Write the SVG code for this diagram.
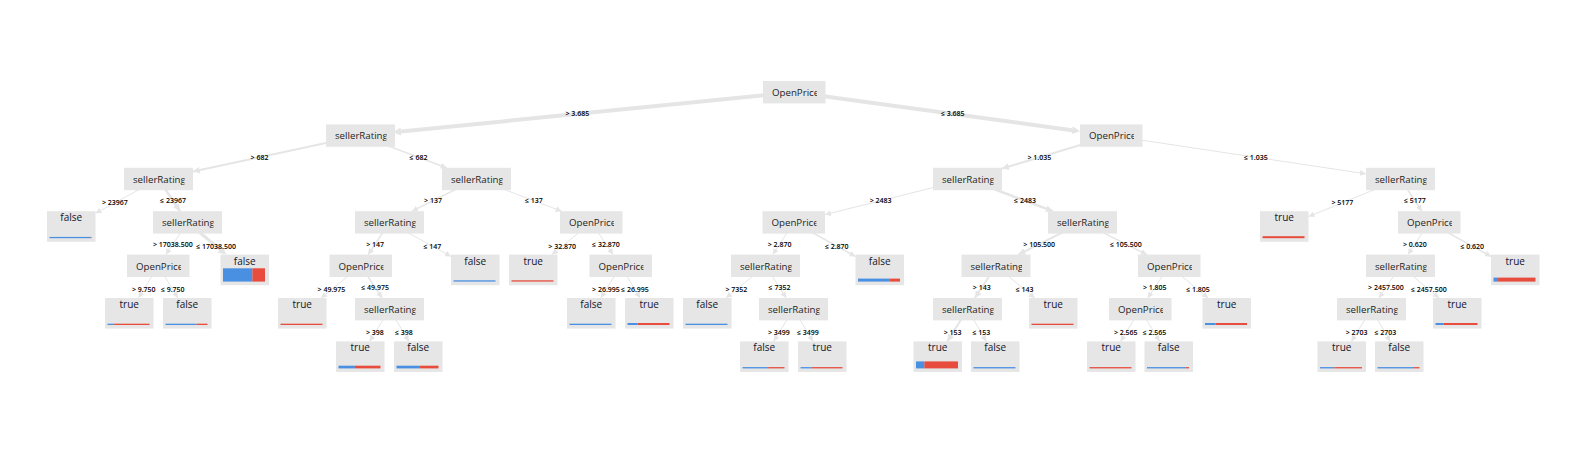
<svg xmlns="http://www.w3.org/2000/svg" width="1582" height="452" viewBox="0 0 1582 452">
<style>
.nr{fill:#e6e6e6}
.t{font-family:"Open Sans","DejaVu Sans",sans-serif;font-size:9.7px;fill:#1e1e1e}
.lt{font-family:"Open Sans","DejaVu Sans",sans-serif;font-size:10px;fill:#14142a;text-anchor:middle}
.el{font-family:"Open Sans","DejaVu Sans",sans-serif;font-size:7px;font-weight:600;fill:#000;text-anchor:middle}
.e{fill:none;stroke:#e5e5e5;stroke-width:1}
.bl{fill:#4a90e2}
.rd{fill:#e74c3c}
</style>
<defs>
<marker id="aS" markerUnits="userSpaceOnUse" markerWidth="6" markerHeight="6" refX="6" refY="3" orient="auto"><path d="M0,0L6,3L0,6z" fill="#e5e5e5"/></marker>
<marker id="aM" markerUnits="userSpaceOnUse" markerWidth="7" markerHeight="7" refX="7" refY="3.5" orient="auto"><path d="M0,0L7,3.5L0,7z" fill="#e5e5e5"/></marker>
<marker id="aL" markerUnits="userSpaceOnUse" markerWidth="8" markerHeight="8" refX="0" refY="4" orient="auto"><path d="M0,0L8,4L0,8z" fill="#e5e5e5"/></marker>
<clipPath id="cSR"><rect x="0" y="0" width="60.5" height="22.4"/></clipPath>
<clipPath id="cOP"><rect x="0" y="0" width="54" height="22.4"/></clipPath>
</defs>
<rect width="1582" height="452" fill="#fff"/>
<g id="connectors">
<path class="e" style="stroke-width:4" d="M794.25,92.2L400.97,131.55" marker-end="url(#aL)"/>
<path class="e" style="stroke-width:4" d="M794.25,92.2L1072.07,130.24" marker-end="url(#aL)"/>
<path class="e" style="stroke-width:2" d="M360.5,135.6L193,171.59" marker-end="url(#aM)"/>
<path class="e" style="stroke-width:1.5" d="M360.5,135.6L446.56,167.8" marker-end="url(#aS)"/>
<path class="e" style="stroke-width:2" d="M1111.25,135.6L1002,168.58" marker-end="url(#aM)"/>
<path class="e" d="M1111.25,135.6L1366,173.82" marker-end="url(#aS)"/>
<path class="e" d="M158.5,179L95.5,213.3" marker-end="url(#aS)"/>
<path class="e" style="stroke-width:2.5" d="M158.5,179L180.02,211.2" marker-end="url(#aM)"/>
<path class="e" style="stroke-width:1.5" d="M476.5,179L411.95,211.2" marker-end="url(#aS)"/>
<path class="e" d="M476.5,179L561.63,211.2" marker-end="url(#aS)"/>
<path class="e" d="M967.5,179L825,214.59" marker-end="url(#aS)"/>
<path class="e" style="stroke-width:2.5" d="M967.5,179L1052.82,211.2" marker-end="url(#aM)"/>
<path class="e" d="M1400.5,179L1308.5,216.59" marker-end="url(#aS)"/>
<path class="e" style="stroke-width:1.5" d="M1400.5,179L1421.83,211.2" marker-end="url(#aS)"/>
<path class="e" d="M187.5,222.4L165.8,254.6" marker-end="url(#aS)"/>
<path class="e" style="stroke-width:3" d="M187.5,222.4L220.15,249.49" marker-end="url(#aL)"/>
<path class="e" style="stroke-width:1.5" d="M389.5,222.4L368.17,254.6" marker-end="url(#aS)"/>
<path class="e" d="M389.5,222.4L451,256.47" marker-end="url(#aS)"/>
<path class="e" d="M591.25,222.4L551.93,254.6" marker-end="url(#aS)"/>
<path class="e" d="M591.25,222.4L613.14,254.6" marker-end="url(#aS)"/>
<path class="e" d="M793.75,222.4L772.79,254.6" marker-end="url(#aS)"/>
<path class="e" style="stroke-width:1.5" d="M793.75,222.4L855.5,256.51" marker-end="url(#aS)"/>
<path class="e" style="stroke-width:2" d="M1082.5,222.4L1018.33,254.6" marker-end="url(#aM)"/>
<path class="e" style="stroke-width:1.5" d="M1082.5,222.4L1146.86,254.6" marker-end="url(#aS)"/>
<path class="e" d="M1429.25,222.4L1407.92,254.6" marker-end="url(#aS)"/>
<path class="e" style="stroke-width:1.5" d="M1429.25,222.4L1491,256.51" marker-end="url(#aS)"/>
<path class="e" d="M158.25,265.8L138.59,298" marker-end="url(#aS)"/>
<path class="e" d="M158.25,265.8L177.91,298" marker-end="url(#aS)"/>
<path class="e" d="M360.75,265.8L321.09,298" marker-end="url(#aS)"/>
<path class="e" style="stroke-width:1.5" d="M360.75,265.8L382.08,298" marker-end="url(#aS)"/>
<path class="e" d="M620.75,265.8L600.75,298" marker-end="url(#aS)"/>
<path class="e" d="M620.75,265.8L640.07,298" marker-end="url(#aS)"/>
<path class="e" d="M765.5,265.8L726.01,298" marker-end="url(#aS)"/>
<path class="e" d="M765.5,265.8L786.27,298" marker-end="url(#aS)"/>
<path class="e" style="stroke-width:2" d="M996,265.8L974.86,298" marker-end="url(#aM)"/>
<path class="e" d="M996,265.8L1034.81,298" marker-end="url(#aS)"/>
<path class="e" d="M1169.25,265.8L1147.73,298" marker-end="url(#aS)"/>
<path class="e" d="M1169.25,265.8L1208.23,298" marker-end="url(#aS)"/>
<path class="e" d="M1400.5,265.8L1378.98,298" marker-end="url(#aS)"/>
<path class="e" d="M1400.5,265.8L1438.97,298" marker-end="url(#aS)"/>
<path class="e" d="M389.5,309.2L369.67,341.4" marker-end="url(#aS)"/>
<path class="e" d="M389.5,309.2L408.99,341.4" marker-end="url(#aS)"/>
<path class="e" d="M793.5,309.2L773.67,341.4" marker-end="url(#aS)"/>
<path class="e" d="M793.5,309.2L812.99,341.4" marker-end="url(#aS)"/>
<path class="e" style="stroke-width:2" d="M967.5,309.2L947.33,341.4" marker-end="url(#aM)"/>
<path class="e" d="M967.5,309.2L986.31,341.4" marker-end="url(#aS)"/>
<path class="e" d="M1140.25,309.2L1120.59,341.4" marker-end="url(#aS)"/>
<path class="e" d="M1140.25,309.2L1159.57,341.4" marker-end="url(#aS)"/>
<path class="e" d="M1371.5,309.2L1351.33,341.4" marker-end="url(#aS)"/>
<path class="e" d="M1371.5,309.2L1390.31,341.4" marker-end="url(#aS)"/>
<text class="el" x="577.4" y="116.4">&gt; 3.685</text>
<text class="el" x="952.75" y="116.4">≤ 3.685</text>
<text class="el" x="259.5" y="159.8">&gt; 682</text>
<text class="el" x="418.5" y="159.8">≤ 682</text>
<text class="el" x="1039.4" y="159.8">&gt; 1.035</text>
<text class="el" x="1255.9" y="159.8">≤ 1.035</text>
<text class="el" x="114.9" y="205.25">&gt; 23967</text>
<text class="el" x="173" y="203.2">≤ 23967</text>
<text class="el" x="433" y="203.2">&gt; 137</text>
<text class="el" x="533.9" y="203.2">≤ 137</text>
<text class="el" x="880.6" y="203.2">&gt; 2483</text>
<text class="el" x="1025" y="203.2">≤ 2483</text>
<text class="el" x="1342.4" y="205.25">&gt; 5177</text>
<text class="el" x="1414.9" y="203.2">≤ 5177</text>
<text class="el" x="172.9" y="246.6">&gt; 17038.500</text>
<text class="el" x="216.1" y="248.65">≤ 17038.500</text>
<text class="el" x="375.1" y="246.6">&gt; 147</text>
<text class="el" x="432.4" y="248.65">≤ 147</text>
<text class="el" x="562.25" y="248.65">&gt; 32.870</text>
<text class="el" x="606" y="246.6">≤ 32.870</text>
<text class="el" x="779.6" y="246.6">&gt; 2.870</text>
<text class="el" x="836.75" y="248.65">≤ 2.870</text>
<text class="el" x="1039.25" y="246.6">&gt; 105.500</text>
<text class="el" x="1125.9" y="246.6">≤ 105.500</text>
<text class="el" x="1414.9" y="246.6">&gt; 0.620</text>
<text class="el" x="1472.25" y="248.65">≤ 0.620</text>
<text class="el" x="143.75" y="292.05">&gt; 9.750</text>
<text class="el" x="172.75" y="292.05">≤ 9.750</text>
<text class="el" x="331.5" y="292.05">&gt; 49.975</text>
<text class="el" x="375.1" y="290">≤ 49.975</text>
<text class="el" x="606" y="292.05">&gt; 26.995</text>
<text class="el" x="635" y="292.05">≤ 26.995</text>
<text class="el" x="736.4" y="292.05">&gt; 7352</text>
<text class="el" x="779.5" y="290">≤ 7352</text>
<text class="el" x="981.75" y="290">&gt; 143</text>
<text class="el" x="1024.6" y="292.05">≤ 143</text>
<text class="el" x="1154.75" y="290">&gt; 1.805</text>
<text class="el" x="1198" y="292.05">≤ 1.805</text>
<text class="el" x="1386" y="290">&gt; 2457.500</text>
<text class="el" x="1428.9" y="292.05">≤ 2457.500</text>
<text class="el" x="374.9" y="335.45">&gt; 398</text>
<text class="el" x="403.9" y="335.45">≤ 398</text>
<text class="el" x="778.9" y="335.45">&gt; 3499</text>
<text class="el" x="807.9" y="335.45">≤ 3499</text>
<text class="el" x="952.6" y="335.45">&gt; 153</text>
<text class="el" x="981.4" y="335.45">≤ 153</text>
<text class="el" x="1125.75" y="335.45">&gt; 2.565</text>
<text class="el" x="1154.5" y="335.45">≤ 2.565</text>
<text class="el" x="1356.6" y="335.45">&gt; 2703</text>
<text class="el" x="1385.4" y="335.45">≤ 2703</text>
</g>
<g id="n-root" transform="translate(763,81)"><rect class="nr" width="62.5" height="22.4"/><text class="t" x="9" y="15" clip-path="url(#cOP)">OpenPrice</text></g>
<g id="n-a" transform="translate(326,124.4)"><rect class="nr" width="69" height="22.4"/><text class="t" x="9" y="15" clip-path="url(#cSR)">sellerRating</text></g>
<g id="n-b" transform="translate(1080,124.4)"><rect class="nr" width="62.5" height="22.4"/><text class="t" x="9" y="15" clip-path="url(#cOP)">OpenPrice</text></g>
<g id="n-aa" transform="translate(124,167.8)"><rect class="nr" width="69" height="22.4"/><text class="t" x="9" y="15" clip-path="url(#cSR)">sellerRating</text></g>
<g id="n-ab" transform="translate(442,167.8)"><rect class="nr" width="69" height="22.4"/><text class="t" x="9" y="15" clip-path="url(#cSR)">sellerRating</text></g>
<g id="n-ba" transform="translate(933,167.8)"><rect class="nr" width="69" height="22.4"/><text class="t" x="9" y="15" clip-path="url(#cSR)">sellerRating</text></g>
<g id="n-bb" transform="translate(1366,167.8)"><rect class="nr" width="69" height="22.4"/><text class="t" x="9" y="15" clip-path="url(#cSR)">sellerRating</text></g>
<g id="n-aa2" transform="translate(153,211.2)"><rect class="nr" width="69" height="22.4"/><text class="t" x="9" y="15" clip-path="url(#cSR)">sellerRating</text></g>
<g id="n-ab1" transform="translate(355,211.2)"><rect class="nr" width="69" height="22.4"/><text class="t" x="9" y="15" clip-path="url(#cSR)">sellerRating</text></g>
<g id="n-ab2" transform="translate(560,211.2)"><rect class="nr" width="62.5" height="22.4"/><text class="t" x="9" y="15" clip-path="url(#cOP)">OpenPrice</text></g>
<g id="n-ba1" transform="translate(762.5,211.2)"><rect class="nr" width="62.5" height="22.4"/><text class="t" x="9" y="15" clip-path="url(#cOP)">OpenPrice</text></g>
<g id="n-ba2" transform="translate(1048,211.2)"><rect class="nr" width="69" height="22.4"/><text class="t" x="9" y="15" clip-path="url(#cSR)">sellerRating</text></g>
<g id="n-bb2" transform="translate(1398,211.2)"><rect class="nr" width="62.5" height="22.4"/><text class="t" x="9" y="15" clip-path="url(#cOP)">OpenPrice</text></g>
<g id="n-aa2a" transform="translate(127,254.6)"><rect class="nr" width="62.5" height="22.4"/><text class="t" x="9" y="15" clip-path="url(#cOP)">OpenPrice</text></g>
<g id="n-ab1a" transform="translate(329.5,254.6)"><rect class="nr" width="62.5" height="22.4"/><text class="t" x="9" y="15" clip-path="url(#cOP)">OpenPrice</text></g>
<g id="n-ab2b" transform="translate(589.5,254.6)"><rect class="nr" width="62.5" height="22.4"/><text class="t" x="9" y="15" clip-path="url(#cOP)">OpenPrice</text></g>
<g id="n-ba1a" transform="translate(731,254.6)"><rect class="nr" width="69" height="22.4"/><text class="t" x="9" y="15" clip-path="url(#cSR)">sellerRating</text></g>
<g id="n-ba2a" transform="translate(961.5,254.6)"><rect class="nr" width="69" height="22.4"/><text class="t" x="9" y="15" clip-path="url(#cSR)">sellerRating</text></g>
<g id="n-ba2b" transform="translate(1138,254.6)"><rect class="nr" width="62.5" height="22.4"/><text class="t" x="9" y="15" clip-path="url(#cOP)">OpenPrice</text></g>
<g id="n-bb2a" transform="translate(1366,254.6)"><rect class="nr" width="69" height="22.4"/><text class="t" x="9" y="15" clip-path="url(#cSR)">sellerRating</text></g>
<g id="n-ab1a2" transform="translate(355,298)"><rect class="nr" width="69" height="22.4"/><text class="t" x="9" y="15" clip-path="url(#cSR)">sellerRating</text></g>
<g id="n-ba1a2" transform="translate(759,298)"><rect class="nr" width="69" height="22.4"/><text class="t" x="9" y="15" clip-path="url(#cSR)">sellerRating</text></g>
<g id="n-ba2a1" transform="translate(933,298)"><rect class="nr" width="69" height="22.4"/><text class="t" x="9" y="15" clip-path="url(#cSR)">sellerRating</text></g>
<g id="n-ba2b1" transform="translate(1109,298)"><rect class="nr" width="62.5" height="22.4"/><text class="t" x="9" y="15" clip-path="url(#cOP)">OpenPrice</text></g>
<g id="n-bb2a1" transform="translate(1337,298)"><rect class="nr" width="69" height="22.4"/><text class="t" x="9" y="15" clip-path="url(#cSR)">sellerRating</text></g>
<g id="l-aa1" transform="translate(47,211.2)"><rect class="nr" width="48.5" height="30.6"/><text class="lt" x="24.25" y="10">false</text><rect class="bl" x="2.5" y="25.7" width="41.16" height="1.3"/><rect class="rd" x="43.66" y="25.7" width="0.84" height="1.3"/></g>
<g id="l-aa2b" transform="translate(220.5,254.6)"><rect class="nr" width="48.5" height="30.6"/><text class="lt" x="24.25" y="10">false</text><rect class="bl" x="2.5" y="13.7" width="29.4" height="13.3"/><rect class="rd" x="31.9" y="13.7" width="12.6" height="13.3"/></g>
<g id="l-aa2a1" transform="translate(105,298)"><rect class="nr" width="48.5" height="30.6"/><text class="lt" x="24.25" y="10">true</text><rect class="bl" x="2.5" y="25.7" width="6.72" height="1.3"/><rect class="rd" x="9.22" y="25.7" width="35.28" height="1.3"/></g>
<g id="l-aa2a2" transform="translate(163,298)"><rect class="nr" width="48.5" height="30.6"/><text class="lt" x="24.25" y="10">false</text><rect class="bl" x="2.5" y="25.7" width="31.08" height="1.3"/><rect class="rd" x="33.58" y="25.7" width="10.92" height="1.3"/></g>
<g id="l-ab1a1" transform="translate(278,298)"><rect class="nr" width="48.5" height="30.6"/><text class="lt" x="24.25" y="10">true</text><rect class="rd" x="2.5" y="25.7" width="42" height="1.3"/></g>
<g id="l-ab1b" transform="translate(451,254.6)"><rect class="nr" width="48.5" height="30.6"/><text class="lt" x="24.25" y="10">false</text><rect class="bl" x="2.5" y="25.7" width="42" height="1.3"/></g>
<g id="l-ab2a" transform="translate(509,254.6)"><rect class="nr" width="48.5" height="30.6"/><text class="lt" x="24.25" y="10">true</text><rect class="rd" x="2.5" y="25.7" width="42" height="1.3"/></g>
<g id="l-ab1a2a" transform="translate(336,341.4)"><rect class="nr" width="48.5" height="30.6"/><text class="lt" x="24.25" y="10">true</text><rect class="bl" x="2.5" y="24.3" width="16.38" height="2.7"/><rect class="rd" x="18.88" y="24.3" width="25.62" height="2.7"/></g>
<g id="l-ab1a2b" transform="translate(394,341.4)"><rect class="nr" width="48.5" height="30.6"/><text class="lt" x="24.25" y="10">false</text><rect class="bl" x="2.5" y="24.3" width="22.68" height="2.7"/><rect class="rd" x="25.18" y="24.3" width="19.32" height="2.7"/></g>
<g id="l-ab2b1" transform="translate(567,298)"><rect class="nr" width="48.5" height="30.6"/><text class="lt" x="24.25" y="10">false</text><rect class="bl" x="2.5" y="25.7" width="42" height="1.3"/></g>
<g id="l-ab2b2" transform="translate(625,298)"><rect class="nr" width="48.5" height="30.6"/><text class="lt" x="24.25" y="10">true</text><rect class="bl" x="2.5" y="25" width="10.08" height="2"/><rect class="rd" x="12.58" y="25" width="31.92" height="2"/></g>
<g id="l-ba1a1" transform="translate(683,298)"><rect class="nr" width="48.5" height="30.6"/><text class="lt" x="24.25" y="10">false</text><rect class="bl" x="2.5" y="25.7" width="42" height="1.3"/></g>
<g id="l-ba1b" transform="translate(855.5,254.6)"><rect class="nr" width="48.5" height="30.6"/><text class="lt" x="24.25" y="10">false</text><rect class="bl" x="2.5" y="24" width="31.29" height="3"/><rect class="rd" x="33.79" y="24" width="10.71" height="3"/></g>
<g id="l-ba1a2a" transform="translate(740,341.4)"><rect class="nr" width="48.5" height="30.6"/><text class="lt" x="24.25" y="10">false</text><rect class="bl" x="2.5" y="25.7" width="25.62" height="1.3"/><rect class="rd" x="28.12" y="25.7" width="16.38" height="1.3"/></g>
<g id="l-ba1a2b" transform="translate(798,341.4)"><rect class="nr" width="48.5" height="30.6"/><text class="lt" x="24.25" y="10">true</text><rect class="bl" x="2.5" y="25.7" width="11.34" height="1.3"/><rect class="rd" x="13.84" y="25.7" width="30.66" height="1.3"/></g>
<g id="l-ba2a1a" transform="translate(913.5,341.4)"><rect class="nr" width="48.5" height="30.6"/><text class="lt" x="24.25" y="10">true</text><rect class="bl" x="2.5" y="20" width="8.4" height="7"/><rect class="rd" x="10.9" y="20" width="33.6" height="7"/></g>
<g id="l-ba2a1b" transform="translate(971,341.4)"><rect class="nr" width="48.5" height="30.6"/><text class="lt" x="24.25" y="10">false</text><rect class="bl" x="2.5" y="25.7" width="42" height="1.3"/></g>
<g id="l-ba2a2" transform="translate(1029,298)"><rect class="nr" width="48.5" height="30.6"/><text class="lt" x="24.25" y="10">true</text><rect class="rd" x="2.5" y="25.7" width="42" height="1.3"/></g>
<g id="l-ba2b1a" transform="translate(1087,341.4)"><rect class="nr" width="48.5" height="30.6"/><text class="lt" x="24.25" y="10">true</text><rect class="rd" x="2.5" y="25.7" width="42" height="1.3"/></g>
<g id="l-ba2b1b" transform="translate(1144.5,341.4)"><rect class="nr" width="48.5" height="30.6"/><text class="lt" x="24.25" y="10">false</text><rect class="bl" x="2.5" y="25.7" width="39.06" height="1.3"/><rect class="rd" x="41.56" y="25.7" width="2.94" height="1.3"/></g>
<g id="l-ba2b2" transform="translate(1202.5,298)"><rect class="nr" width="48.5" height="30.6"/><text class="lt" x="24.25" y="10">true</text><rect class="bl" x="2.5" y="25" width="10.5" height="2"/><rect class="rd" x="13" y="25" width="31.5" height="2"/></g>
<g id="l-bb1" transform="translate(1260,211.2)"><rect class="nr" width="48.5" height="30.6"/><text class="lt" x="24.25" y="10">true</text><rect class="rd" x="2.5" y="25" width="42" height="2"/></g>
<g id="l-bb2b" transform="translate(1491,254.6)"><rect class="nr" width="48.5" height="30.6"/><text class="lt" x="24.25" y="10">true</text><rect class="bl" x="2.5" y="23" width="4.62" height="4"/><rect class="rd" x="7.12" y="23" width="37.38" height="4"/></g>
<g id="l-bb2a2" transform="translate(1433,298)"><rect class="nr" width="48.5" height="30.6"/><text class="lt" x="24.25" y="10">true</text><rect class="bl" x="2.5" y="25" width="7.98" height="2"/><rect class="rd" x="10.48" y="25" width="34.02" height="2"/></g>
<g id="l-bb2a1a" transform="translate(1317.5,341.4)"><rect class="nr" width="48.5" height="30.6"/><text class="lt" x="24.25" y="10">true</text><rect class="bl" x="2.5" y="25.7" width="14.28" height="1.3"/><rect class="rd" x="16.78" y="25.7" width="27.72" height="1.3"/></g>
<g id="l-bb2a1b" transform="translate(1375,341.4)"><rect class="nr" width="48.5" height="30.6"/><text class="lt" x="24.25" y="10">false</text><rect class="bl" x="2.5" y="25.7" width="35.7" height="1.3"/><rect class="rd" x="38.2" y="25.7" width="6.3" height="1.3"/></g>
</svg>
